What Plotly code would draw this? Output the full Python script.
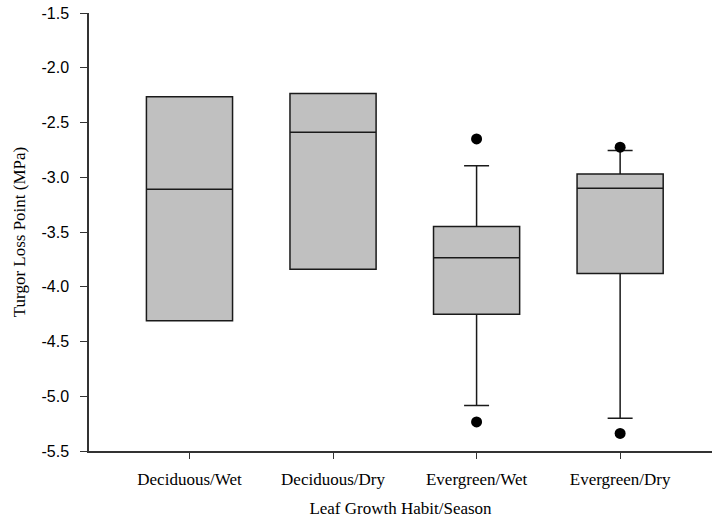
import plotly.graph_objects as go

categories = ["Deciduous/Wet", "Deciduous/Dry", "Evergreen/Wet", "Evergreen/Dry"]
q1 = [-4.31, -3.84, -4.25, -3.88]
median = [-3.11, -2.59, -3.735, -3.10]
q3 = [-2.265, -2.235, -3.45, -2.97]
lower_fence = [-4.31, -3.84, -5.085, -5.20]
upper_fence = [-2.265, -2.235, -2.895, -2.755]
outlier_x = ["Evergreen/Wet", "Evergreen/Wet", "Evergreen/Dry", "Evergreen/Dry"]
outlier_y = [-2.65, -5.235, -2.725, -5.34]
y_ticks = [-1.5, -2.0, -2.5, -3.0, -3.5, -4.0, -4.5, -5.0, -5.5]

fig = go.Figure()
fig.add_trace(go.Box(
    x=categories, q1=q1, median=median, q3=q3,
    lowerfence=lower_fence, upperfence=upper_fence,
    boxpoints=False, width=0.6, whiskerwidth=0.29,
    fillcolor="#c0c0c0", line=dict(color="#1a1a1a", width=1.5),
    showlegend=False, hoverinfo="skip",
))
fig.add_trace(go.Scatter(
    x=outlier_x, y=outlier_y, mode="markers",
    marker=dict(color="black", size=11), showlegend=False,
))

serif = "Liberation Serif, Times New Roman, serif"
sans = "Liberation Sans, Arial, sans-serif"
fig.update_layout(
    width=712, height=525,
    margin=dict(l=89, r=0, t=13, b=74),
    paper_bgcolor="white", plot_bgcolor="white",
    xaxis=dict(
        type="category", categoryorder="array", categoryarray=categories,
        range=[-0.70, 3.64], showgrid=False, zeroline=False,
        showline=True, linecolor="#333333", linewidth=1.5,
        ticks="outside", ticklen=6, tickcolor="#333333",
        ticklabelstandoff=6,
        tickfont=dict(family=serif, size=17, color="black"),
        title=dict(text="Leaf Growth Habit/Season", font=dict(family=serif, size=17, color="black"), standoff=14),
    ),
    yaxis=dict(
        range=[-5.5, -1.5], tickvals=y_ticks, ticktext=[f"{v:.1f}" for v in y_ticks],
        showgrid=False, zeroline=False,
        showline=True, linecolor="#333333", linewidth=1.5,
        ticks="outside", ticklen=7, tickcolor="#333333",
        ticklabelstandoff=8,
        tickfont=dict(family=sans, size=16, color="black"),
        title=dict(text="Turgor Loss Point (MPa)", font=dict(family=serif, size=17, color="black"), standoff=12),
    ),
)
fig.write_html("out.html")
